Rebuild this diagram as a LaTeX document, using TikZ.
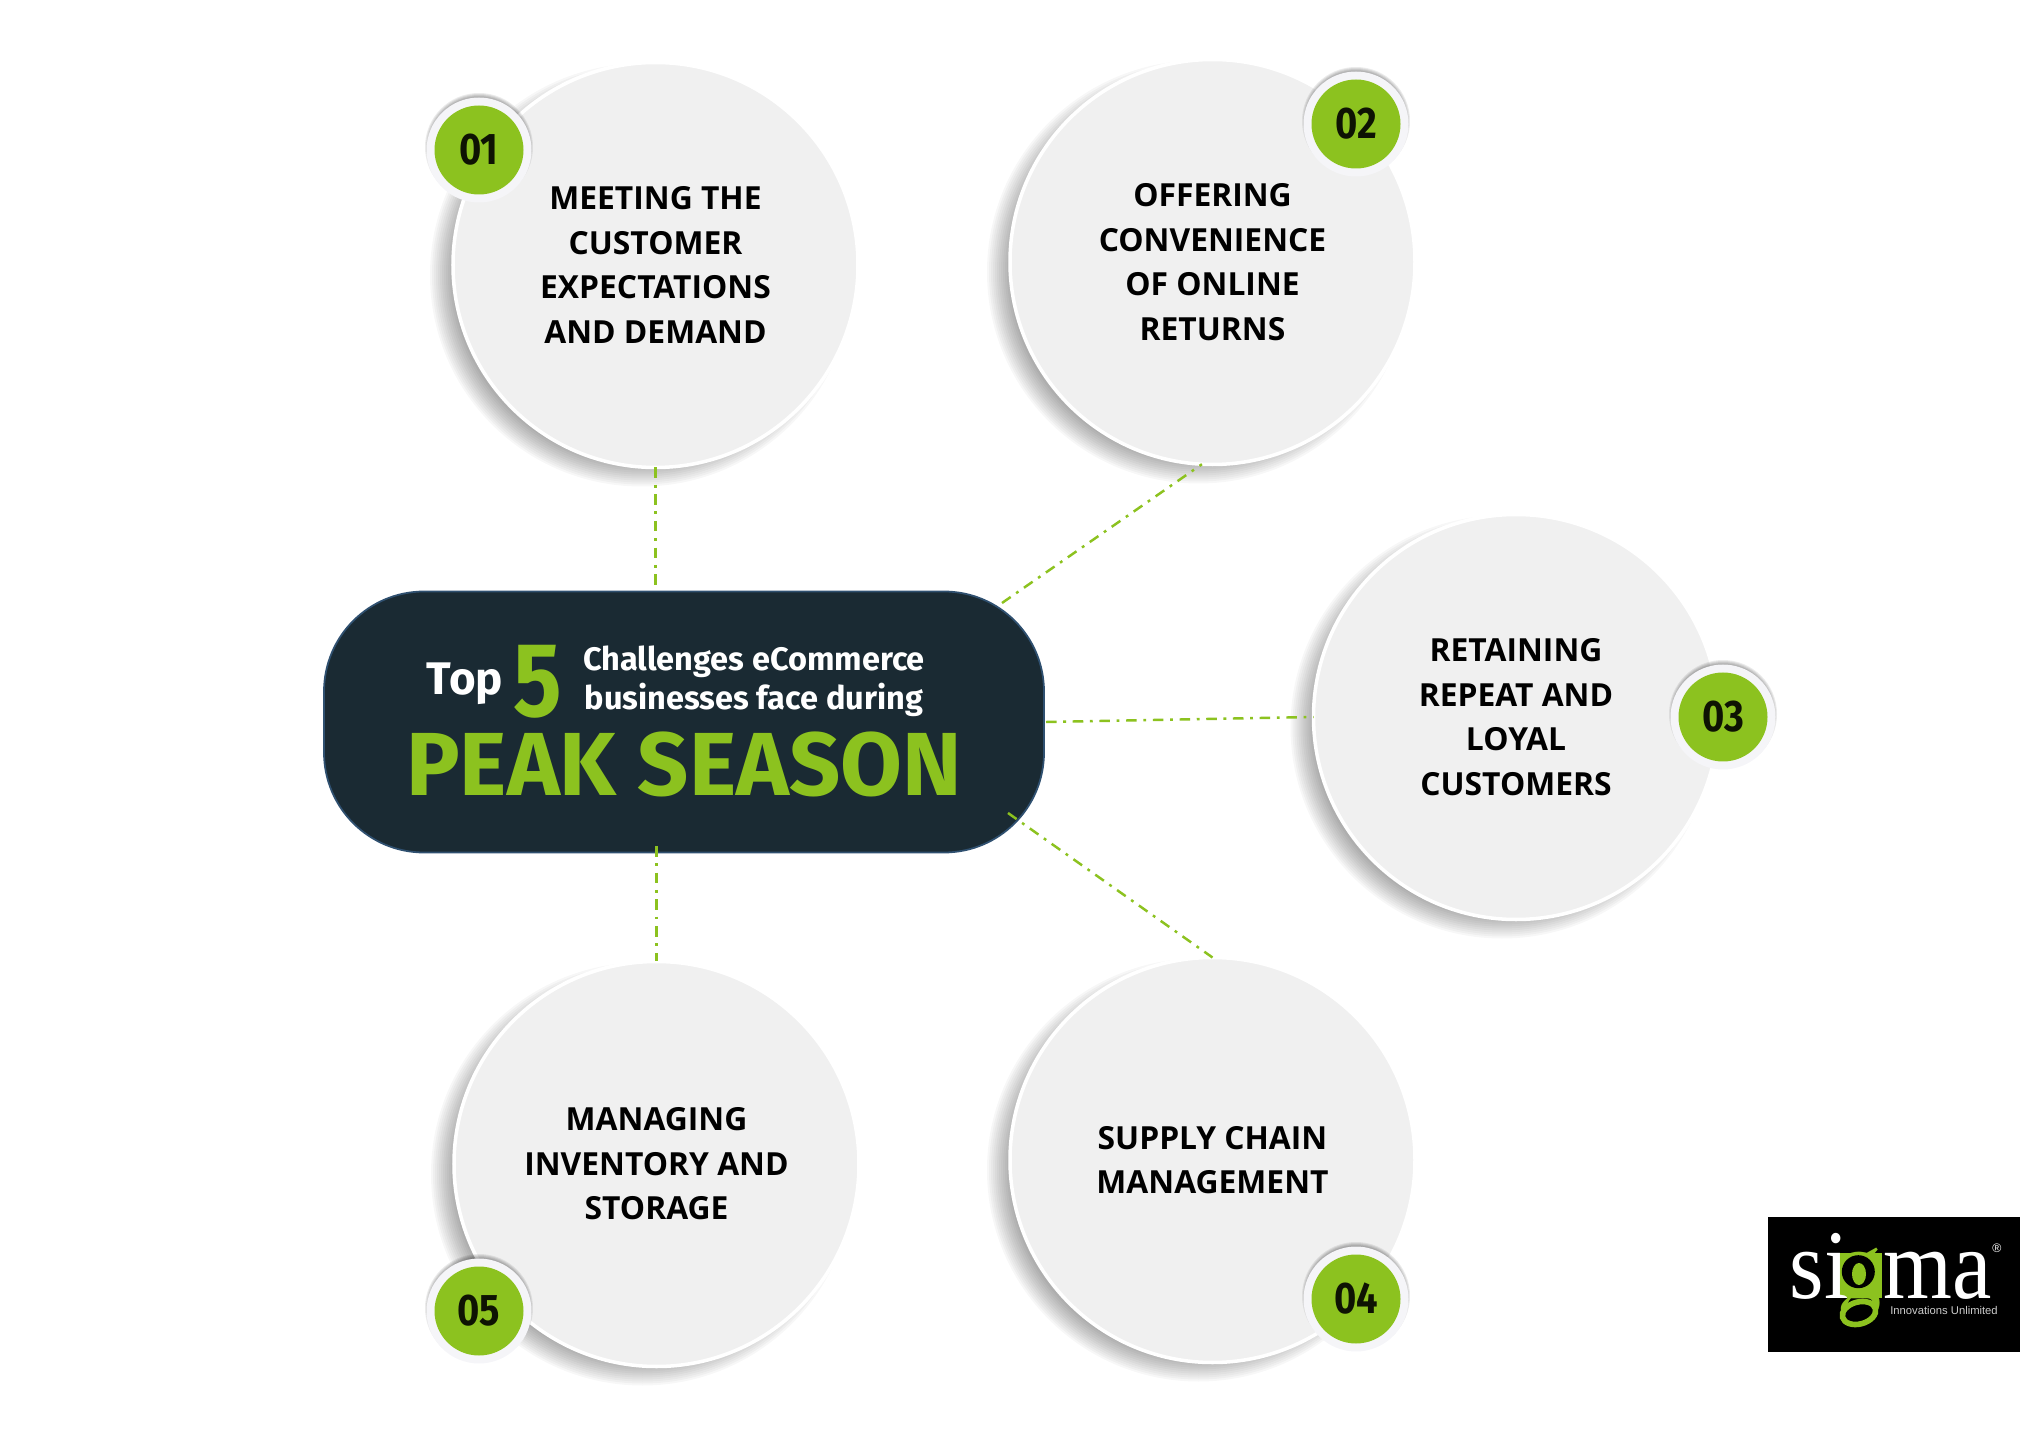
\documentclass[tikz,border=0pt]{standalone}
\usepackage{xcolor}
\usepackage{fontspec}
\setmainfont{Open Sans}
\newfontfamily\dinfont{Fira Sans}
\newfontfamily\dinnarrow[FakeStretch=0.86]{Fira Sans}
\newfontfamily\logofont[FakeStretch=0.9]{Liberation Serif}
\newfontfamily\tagfont{Liberation Sans}
\usepackage{tikz}
\usetikzlibrary{calc}
\usetikzlibrary{positioning}
\definecolor{leaf}{HTML}{8CC21F}
\definecolor{slate}{HTML}{1A2A33}
\definecolor{pillrim}{HTML}{2F5070}
\definecolor{disc}{HTML}{F0F0F0}
\definecolor{halo}{HTML}{F5F5F8}
\tikzstyle{topic} = [circle, draw=white, line width=1pt, fill=disc, minimum size=4.05cm, inner sep=0pt, outer sep=0pt, align=center, font=\fontsize{9.05}{12.7}\selectfont\bfseries, text=black]
\tikzstyle{ring} = [circle, fill=halo, minimum size=1.05cm, inner sep=0pt, outer sep=0pt]
\tikzstyle{badge} = [circle, fill=leaf, minimum size=0.89cm, inner sep=0pt, outer sep=0pt, font=\dinnarrow\fontsize{12.6}{12.6}\selectfont\bfseries, text=black!90!leaf]
\tikzstyle{link} = [-, draw=leaf, line width=0.7pt, dash pattern=on 3pt off 1.9pt on 0.8pt off 1.9pt]
\newcommand{\softshadow}[3]{%
  \foreach \s in {0,...,11}
    \fill [black, opacity=0.032] ($(#1,#2)+(-0.14,-0.10)$) circle ({#3-0.13+\s*0.02});
}
\newcommand{\ringshadow}[2]{%
  \foreach \s in {0,...,5}
    \fill [black, opacity=0.08] ($(#1,#2)+(0,0.03)$) circle ({0.49+\s*0.01});
}

\begin{document}
\begin{tikzpicture}
\useasboundingbox (0, 0) rectangle (20.2, 14.31);
\softshadow{6.555}{11.66}{2.025}
\softshadow{12.125}{11.69}{2.025}
\softshadow{15.16}{7.14}{2.025}
\softshadow{12.125}{2.71}{2.025}
\softshadow{6.565}{2.67}{2.025}
\node [topic] (C1) at (6.555, 11.66) {MEETING THE\\CUSTOMER\\EXPECTATIONS\\AND DEMAND};
\node [topic] (C2) at (12.125, 11.69) {OFFERING\\CONVENIENCE\\OF ONLINE\\RETURNS};
\node [topic] (C3) at (15.16, 7.14) {RETAINING\\REPEAT AND\\LOYAL\\CUSTOMERS};
\node [topic] (C4) at (12.125, 2.71) {SUPPLY CHAIN\\MANAGEMENT};
\node [topic] (C5) at (6.565, 2.67) {MANAGING\\INVENTORY AND\\STORAGE};
\ringshadow{4.79}{12.81}
\ringshadow{13.56}{13.07}
\ringshadow{17.23}{7.14}
\ringshadow{13.56}{1.32}
\ringshadow{4.79}{1.20}
\node [ring] (R1) at (4.79, 12.81) {};
\node [ring] (R2) at (13.56, 13.07) {};
\node [ring] (R3) at (17.23, 7.14) {};
\node [ring] (R4) at (13.56, 1.32) {};
\node [ring] (R5) at (4.79, 1.20) {};
\node [badge] (B1) at (R1) {01};
\node [badge] (B2) at (R2) {02};
\node [badge] (B3) at (R3) {03};
\node [badge] (B4) at (R4) {04};
\node [badge] (B5) at (R5) {05};
\node [rectangle, draw=pillrim, line width=0.5pt, fill=slate, rounded corners=1cm, minimum width=7.2cm, minimum height=2.61cm, outer sep=0pt] (pill) at (6.84, 7.09) {};
\coordinate (P1) at (6.555, 8.45);
\coordinate (P2) at (10.02, 8.28);
\coordinate (P3) at (10.46, 7.09);
\coordinate (P4) at (10.08, 6.18);
\coordinate (P5) at (6.565, 5.85);
\draw [link] (C1.south) to (P1);
\draw [link] (P2) to (C2.267);
\draw [link] (P3) to (C3.west);
\draw [link] (P4) to (C4.north);
\draw [link] (P5) to (C5.north);
\node [text=white, inner sep=0pt, font=\dinfont\fontsize{13}{13}\selectfont\bfseries] (top) at (4.65, 7.47) {Top};
\node [text=leaf, inner sep=0pt, font=\dinnarrow\fontsize{30}{30}\selectfont\bfseries] (five) at (5.375, 7.49) {5};
\node [text=white, inner sep=0pt, align=center, font=\dinfont\fontsize{9.25}{11}\selectfont\bfseries] (sub) at (7.54, 7.50) {Challenges eCommerce\\businesses face during};
\node [text=leaf, inner sep=0pt, font=\dinfont\fontsize{25.5}{25.5}\selectfont\bfseries] (peak) at (6.84, 6.67) {PEAK SEASON};
% logo
\node [rectangle, fill=black, minimum width=2.52cm, minimum height=1.35cm, outer sep=0pt] (logo) at (18.94, 1.465) {};
\node [fill=leaf, minimum width=0.45cm, minimum height=0.45cm, inner sep=0pt] (gbox) at (18.595, 1.555) {};
\node [text=white, font=\logofont\fontsize{28}{28}\selectfont, anchor=base west, inner sep=0pt] (si) at (17.89, 1.33) {si};
\node [text=leaf, font=\logofont\fontsize{28}{28}\selectfont, anchor=base, inner sep=0pt] (gee) at (18.595, 1.33) {g};
\node [text=white, font=\logofont\fontsize{28}{28}\selectfont, anchor=base west, inner sep=0pt] (ma) at (18.83, 1.33) {ma};
\fill [black] (18.583, 1.593) ellipse (0.165 and 0.165);
\fill [leaf] (18.59, 1.57) ellipse (0.07 and 0.11);
\draw [leaf, line width=1.6pt, fill=black, rotate around={15:(18.59, 1.18)}] (18.59, 1.18) ellipse (0.17 and 0.11);
\node [text=white!80!black, font=\tagfont\fontsize{3.2}{3.2}\selectfont, inner sep=0pt] (tagline) at (19.44, 1.21) {Innovations Unlimited};
\node [text=white, font=\tagfont\fontsize{3.5}{3.5}\selectfont, inner sep=0pt] (mark) at (19.97, 1.83) {\textregistered};
\end{tikzpicture}
\end{document}
